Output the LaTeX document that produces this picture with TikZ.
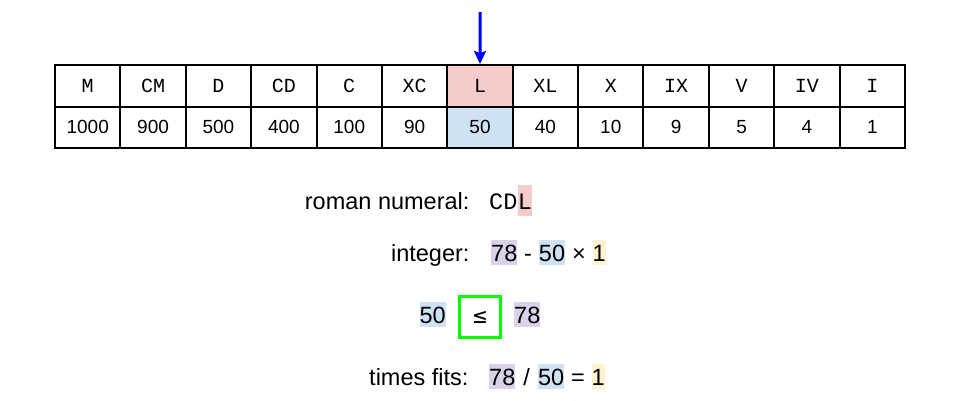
\documentclass[tikz,border=0pt]{standalone}
\usepackage{fontspec}
\setmainfont{Liberation Sans}
\setmonofont{Liberation Mono}
\newfontfamily\symfont{DejaVu Sans Mono}
\usetikzlibrary{arrows.meta,positioning}

\definecolor{hlred}{HTML}{F4CCCC}
\definecolor{hlblue}{HTML}{CFE2F3}
\definecolor{hlpurple}{HTML}{D9D2E9}
\definecolor{hlyellow}{HTML}{FFF2CC}
\definecolor{okgreen}{HTML}{00FF00}

\newcommand{\cellfont}{\fontsize{19}{22}\selectfont}
\newcommand{\labfont}{\fontsize{23.5}{28}\selectfont}

\tikzset{
  cell/.style={draw=black, line width=2pt, minimum width=65.4pt,
    minimum height=41.5pt, inner sep=0pt, font=\cellfont},
  romcell/.style={cell, font=\fontsize{20}{24}\selectfont\ttfamily},
  rc7/.style={fill=hlred},
  vc7/.style={fill=hlblue},
  lab/.style={font=\labfont},
  tok/.style={inner sep=0pt, text height=21.5pt, text depth=4pt, font=\labfont},
  romtok/.style={tok, text height=24pt, text depth=7pt, font=\labfont\ttfamily},
  op/.style={tok, inner xsep=6.5pt}
}

\begin{document}
\begin{tikzpicture}[x=1pt,y=-1pt]
\useasboundingbox (0,0) rectangle (960,400);

% the table of symbols and values
\foreach \r/\v [count=\i] in {M/1000,CM/900,D/500,CD/400,C/100,XC/90,L/50,XL/40,X/10,IX/9,V/5,IV/4,I/1} {
    \node[romcell, rc\i/.try] (r\i) at ({55+65.385*(\i-0.5)},85.75) {\r};
    \node[cell, vc\i/.try] (v\i) at ({55+65.385*(\i-0.5)},127.25) {\v};
}

% pointer
\coordinate (ptr) at (480,12);
\draw[-{Stealth[length=13pt,width=12pt,inset=2pt]}, blue, line width=3pt] (ptr) -- (r7.north);

% roman numeral so far
\node[lab, anchor=base east] (lrom) at (473,209) {roman numeral:};
\node[romtok, anchor=base west] (rom1) at (489,209) {CD};
\node[romtok, fill=hlred, right=0pt of rom1] (rom2) {L};

% integer left
\node[lab, anchor=base east] (lint) at (473,261) {integer:};
\node[tok, fill=hlpurple, anchor=base west] (int1) at (491,261) {78};
\node[op, right=0pt of int1] (int2) {-};
\node[tok, fill=hlblue, right=0pt of int2] (int3) {50};
\node[op, right=0pt of int3] (int4) {×};
\node[tok, fill=hlyellow, right=0pt of int4] (int5) {1};

% comparison
\node[draw=okgreen, line width=3pt, minimum size=41pt, inner sep=0pt,
      font=\fontsize{23}{26}\selectfont\symfont] (le) at (480,317) {≤};
\node[tok, fill=hlblue, anchor=base east] (cmp1) at (446,323) {50};
\node[tok, fill=hlpurple, anchor=base west] (cmp2) at (514,323) {78};

% times fits
\node[lab, anchor=base east] (lfit) at (472,385) {times fits:};
\node[tok, fill=hlpurple, anchor=base west] (fit1) at (489,385) {78};
\node[op, inner xsep=7.7pt, right=0pt of fit1] (fit2) {/};
\node[tok, fill=hlblue, right=0pt of fit2] (fit3) {50};
\node[op, right=0pt of fit3] (fit4) {=};
\node[tok, fill=hlyellow, right=0pt of fit4] (fit5) {1};
\end{tikzpicture}
\end{document}
